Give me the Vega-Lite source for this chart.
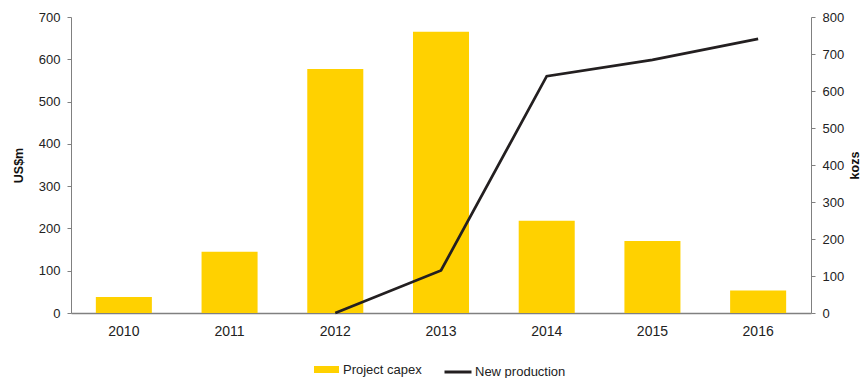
{
  "$schema": "https://vega.github.io/schema/vega-lite/v6.json",
  "width": 740,
  "height": 296,
  "autosize": {"type": "none"},
  "padding": {"left": 71, "top": 17, "right": 52, "bottom": 65},
  "background": "white",
  "config": {
    "font": "Liberation Sans",
    "view": {"stroke": null},
    "axis": {"grid": false, "domainColor": "#808080", "tickColor": "#808080", "labelColor": "#222222", "titleColor": "#111111", "labelFont": "Liberation Sans", "titleFont": "Liberation Sans"},
    "legend": {"labelFont": "Liberation Sans", "labelColor": "#222222"}
  },
  "data": {
    "values": [
      {"year": "2010", "capex": 38, "production": null},
      {"year": "2011", "capex": 145, "production": null},
      {"year": "2012", "capex": 577, "production": 0},
      {"year": "2013", "capex": 665, "production": 115},
      {"year": "2014", "capex": 218, "production": 640},
      {"year": "2015", "capex": 170, "production": 684},
      {"year": "2016", "capex": 53, "production": 741}
    ]
  },
  "encoding": {
    "x": {
      "field": "year",
      "type": "ordinal",
      "scale": {"paddingInner": 0.47, "paddingOuter": 0.235},
      "axis": {"title": null, "labelAngle": 0, "ticks": false, "labelPadding": 11, "labelFontSize": 14, "domainWidth": 1.5}
    }
  },
  "layer": [
    {
      "mark": {"type": "bar"},
      "encoding": {
        "y": {
          "field": "capex",
          "type": "quantitative",
          "scale": {"domain": [0, 700]},
          "axis": {"title": "US$m", "values": [0, 100, 200, 300, 400, 500, 600, 700], "tickSize": 4, "labelPadding": 7, "labelFontSize": 13, "titleFontSize": 12.5, "titleFontWeight": "bold", "titleAngle": 270, "titleX": -53, "titleY": 148, "titleAlign": "center", "titleBaseline": "middle", "domainWidth": 1}
        },
        "fill": {
          "datum": "Project capex",
          "scale": {"range": ["#FFD100"]},
          "legend": {"title": null, "orient": "none", "legendX": 243, "legendY": 340, "padding": 0, "symbolType": "M-1,-0.28H1V0.28H-1Z", "symbolSize": 625, "symbolStrokeWidth": 0, "labelFontSize": 13, "labelOffset": 4}
        }
      }
    },
    {
      "transform": [{"filter": "datum.production != null"}],
      "mark": {"type": "line", "strokeWidth": 2.75},
      "encoding": {
        "y": {
          "field": "production",
          "type": "quantitative",
          "scale": {"domain": [0, 800]},
          "axis": {"orient": "right", "title": "kozs", "values": [0, 100, 200, 300, 400, 500, 600, 700, 800], "tickSize": 4, "labelPadding": 7, "labelFontSize": 13, "titleFontSize": 12.5, "titleFontWeight": "bold", "titleAngle": 270, "titleX": 43, "titleY": 148, "titleAlign": "center", "titleBaseline": "middle", "domainWidth": 1}
        },
        "stroke": {
          "datum": "New production",
          "scale": {"range": ["#231F20"]},
          "legend": {"title": null, "orient": "none", "legendX": 372, "legendY": 340, "padding": 0, "symbolType": "stroke", "symbolSize": 729, "symbolStrokeWidth": 3, "labelFontSize": 13, "labelOffset": 2}
        }
      }
    }
  ],
  "resolve": {"scale": {"y": "independent", "fill": "independent", "stroke": "independent"}}
}
